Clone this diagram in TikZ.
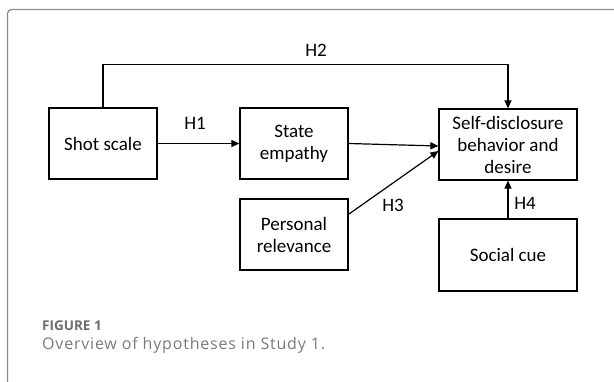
\documentclass[tikz,border=0pt]{standalone}
\usepackage{fontspec}
\setmainfont{Carlito}
\newfontfamily\capfont{Open Sans}
\newfontfamily\capwide[LetterSpace=5]{Open Sans}
\usetikzlibrary{arrows.meta,calc}
\definecolor{framegray}{HTML}{8C8C8C}
\definecolor{capgray}{HTML}{6E6E6E}
\definecolor{capgraylight}{HTML}{7A7A7A}
\begin{document}
\begin{tikzpicture}[x=1pt,y=-1pt,
  box/.style={draw,line width=1.2pt,minimum width=108pt,minimum height=71pt,align=center,
    font=\fontsize{19}{22}\selectfont,inner sep=0pt},
  conn/.style={line width=1.2pt,-{Triangle[length=8pt,width=7pt]}},
  hlab/.style={font=\fontsize{19}{22}\selectfont,inner sep=0pt}]
\useasboundingbox (0,0) rectangle (614,382);
\draw[framegray,line width=1.3pt,rounded corners=4pt] (7.5,395) -- (7.5,9.5) -- (630,9.5);
\node[box] (shot) at (103,143.5) {Shot scale};
\node[box] (state) at (294,143.5) {State\\empathy};
\node[box,minimum width=138pt] (self) at (508,144.5) {Self-disclosure\\behavior and\\desire};
\node[box] (pers) at (294,234.5) {Personal\\relevance};
\node[box,minimum width=138pt,minimum height=72pt] (soc) at (508,255) {Social cue};
\draw[conn] (shot) -- (state);
\draw[conn] (shot.north) -- ++(0,-43) coordinate (h2c) -| (self.north);
\draw[conn] (state.east) -- ([yshift=-1.5pt]self.west);
\draw[conn] ($(pers.north east)!0.22!(pers.south east)$) -- ([yshift=-6.5pt]self.west);
\draw[conn] (soc.north) -- (self.south);
\node[hlab] (h1) at (195,123) {H1};
\node[hlab] (h2) at (316,50) {H2};
\node[hlab] (h3) at (393,205) {H3};
\node[hlab] (h4) at (525,203) {H4};
\node[anchor=west,inner sep=0pt,text=capgray,font=\capfont\bfseries\fontsize{13.5}{16}\selectfont] (fig) at (42,326) {FIGURE 1};
\node[anchor=west,inner sep=0pt,text=capgraylight,font=\capwide\fontsize{16}{19}\selectfont] (cap) at (42,345) {Overview of hypotheses in Study 1.};
\end{tikzpicture}
\end{document}
